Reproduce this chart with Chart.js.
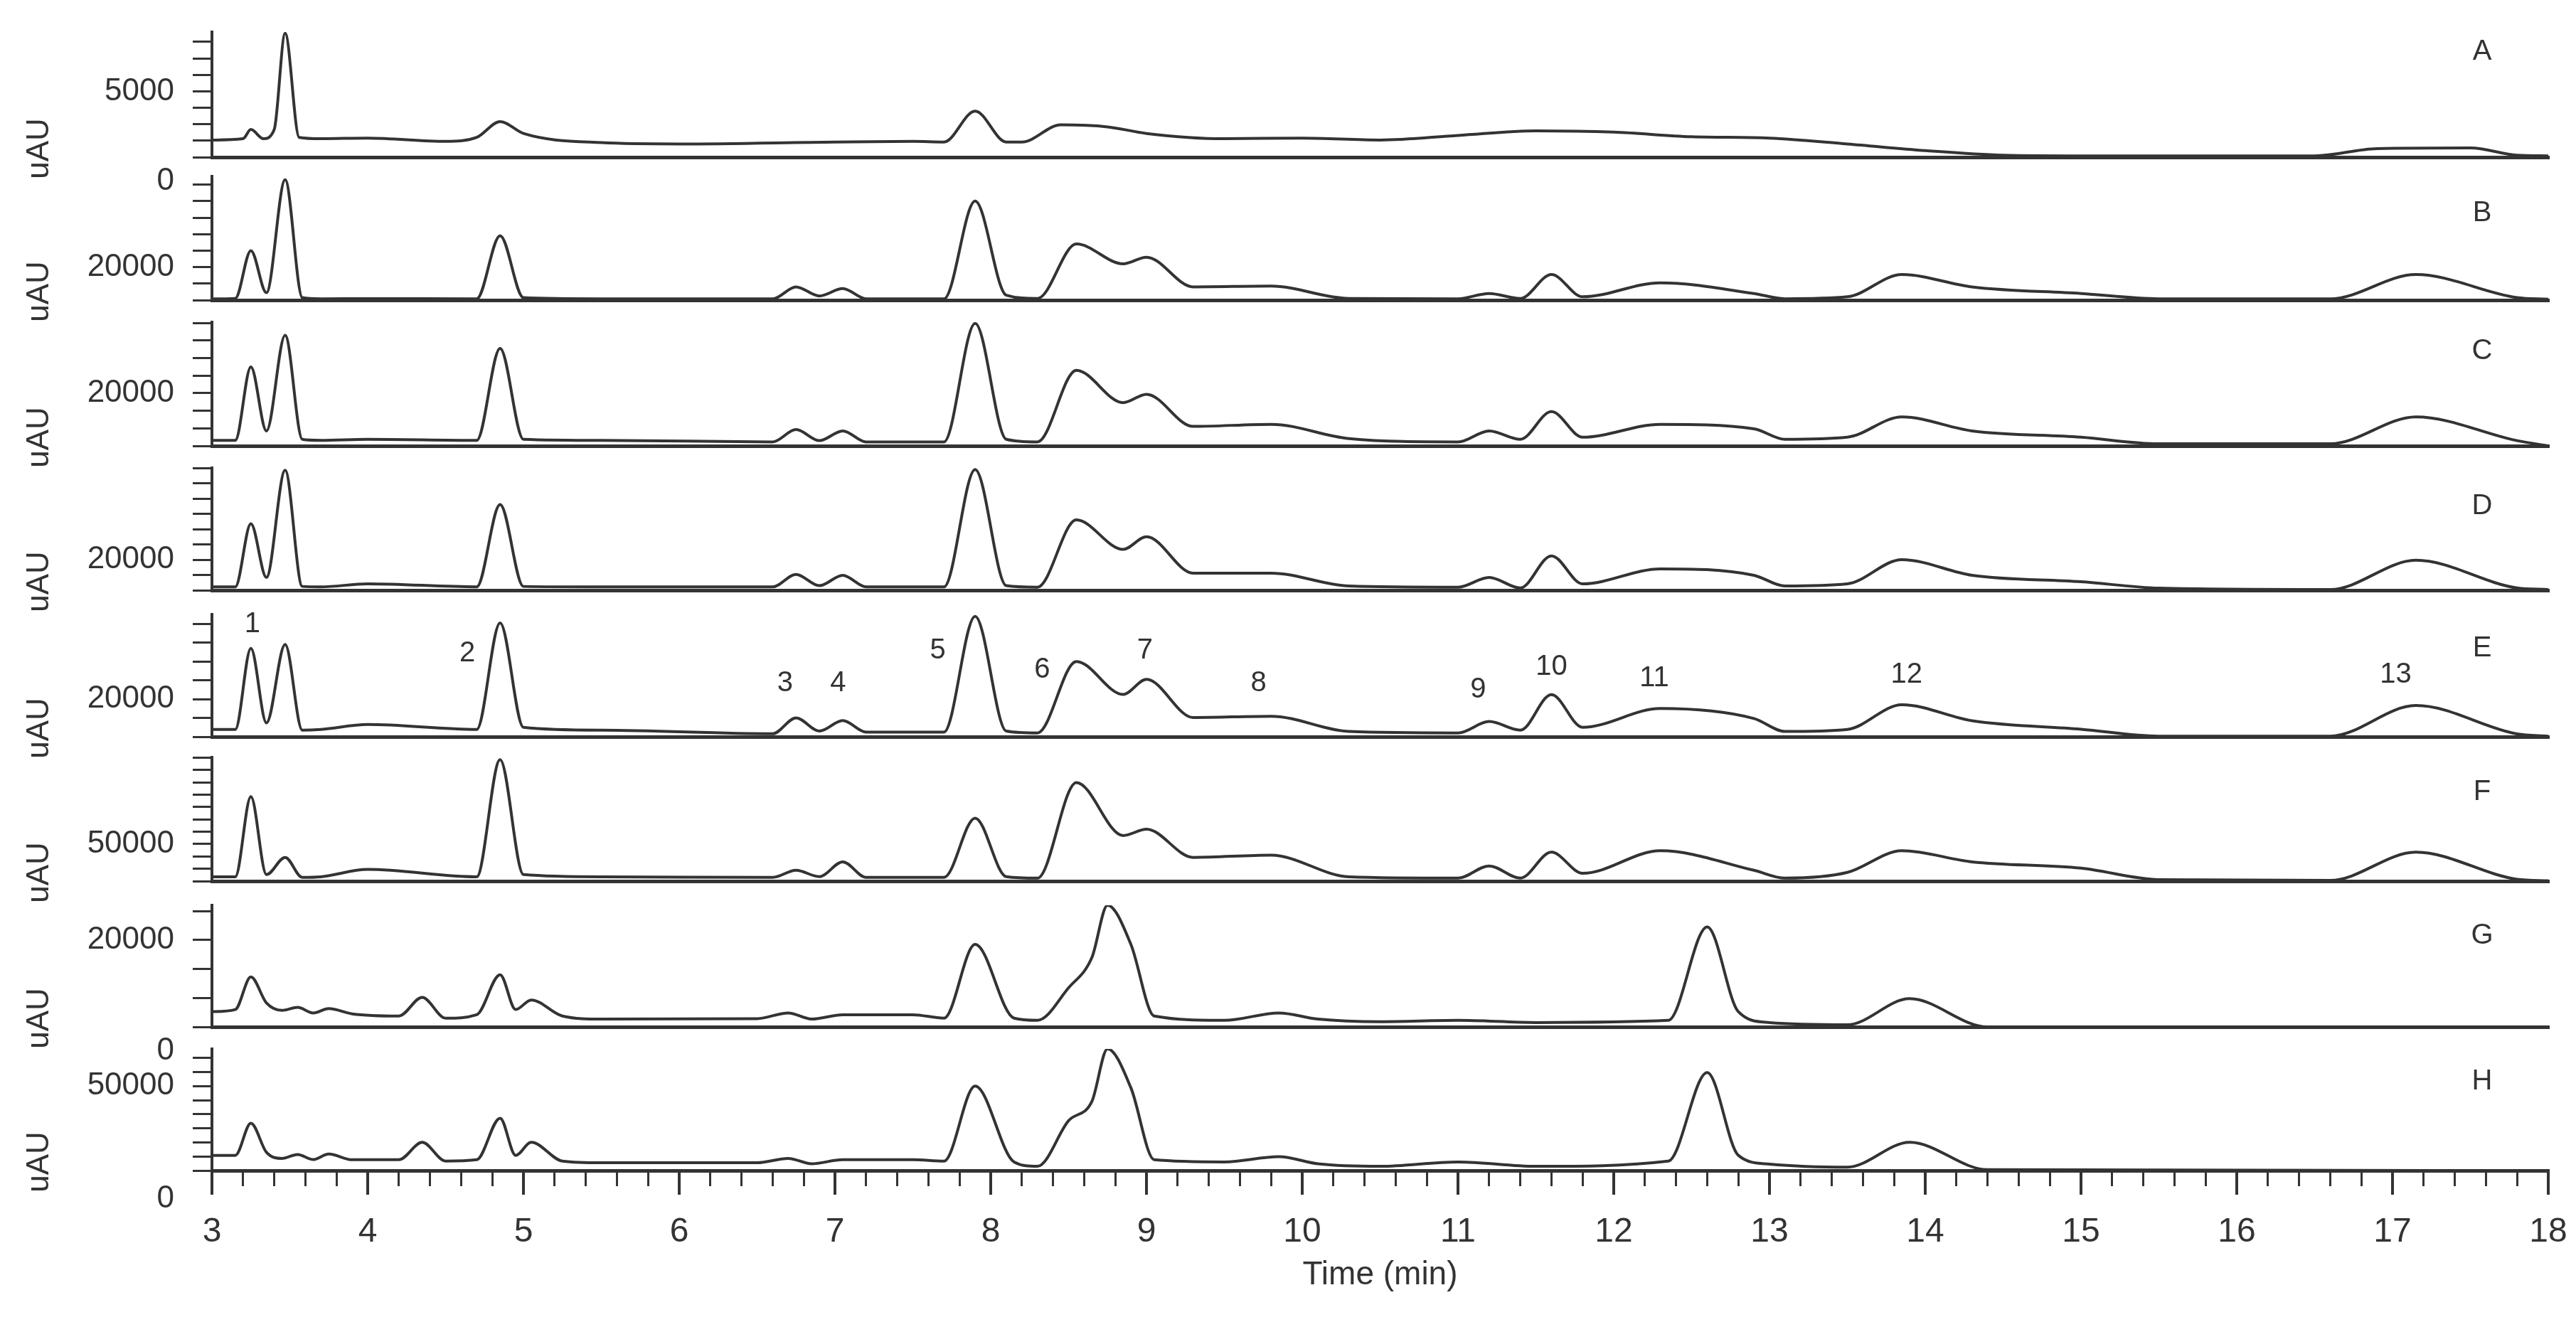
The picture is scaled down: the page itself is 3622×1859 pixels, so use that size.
<!DOCTYPE html>
<html><head><meta charset="utf-8">
<script src="https://cdn.jsdelivr.net/npm/chart.js@4.4.1/dist/chart.umd.min.js"></script>
<style>html,body{margin:0;padding:0;background:#fff;width:3622px;height:1859px;overflow:hidden;position:relative}canvas{position:absolute;left:0}</style>
</head><body>
<script>
// ---- data ----
const timeA = [3.0,3.2,3.25,3.33,3.4,3.47,3.56,3.7,4.0,4.5,4.7,4.85,5.0,5.5,6.0,7.0,7.5,7.7,7.9,8.1,8.2,8.45,8.75,9.0,9.5,10.0,10.5,11.0,11.5,12.0,12.5,13.0,13.5,14.0,14.5,15.0,16.5,16.9,17.5,17.8,18.0];
const timeBF = [3.0,3.15,3.25,3.35,3.47,3.58,3.7,4.0,4.7,4.85,5.0,5.5,6.6,6.75,6.9,7.05,7.2,7.7,7.9,8.1,8.3,8.55,8.85,9.0,9.3,9.8,10.3,11.0,11.2,11.4,11.6,11.8,12.3,12.9,13.1,13.5,13.85,14.3,15.0,15.5,16.6,17.15,17.8,18.0];
const timeGH = [3.0,3.15,3.25,3.35,3.45,3.55,3.65,3.75,3.9,4.2,4.35,4.5,4.7,4.85,4.95,5.05,5.25,5.5,6.5,6.7,6.85,7.05,7.5,7.7,7.9,8.15,8.3,8.5,8.65,8.75,8.9,9.05,9.5,9.85,10.1,10.5,11.0,11.5,12.35,12.6,12.8,13.0,13.5,13.9,14.4,18.0];

const seriesA = [1300,1400,2100,1400,2100,9400,1500,1400,1450,1200,1500,2700,1800,1100,1000,1150,1200,1150,3500,1150,1150,2450,2300,1800,1400,1450,1300,1650,2000,1900,1550,1450,1000,500,150,100,100,650,700,150,100];
const seriesB = [750,1000,30000,4500,73000,1500,800,900,800,39000,1500,800,800,8000,2500,7000,800,800,60000,3000,1000,34000,22000,26000,8000,8500,1000,800,4000,1000,15500,2000,10500,4000,800,2000,15500,8000,4000,800,800,15500,1500,500];
const seriesC = [2100,2100,30000,5700,42000,2500,2100,2500,2100,37000,2500,2100,1500,6200,2000,5700,1500,1500,46500,2500,1500,28700,16400,19600,7400,8200,2800,1500,5700,2500,13000,3300,8200,6500,2500,3300,11000,5700,3300,800,800,11000,2000,0];
const seriesD = [2200,2200,43500,8400,78500,2500,2200,4200,2200,56000,2500,2200,2200,10400,3000,9800,2200,2200,79000,3000,2000,46000,26700,35000,11200,11200,2800,2000,8400,1500,22500,4200,14000,9800,2800,4200,20000,9800,5600,1400,500,19600,1500,500];
const seriesE = [3900,3900,47000,7400,49000,3500,3900,6500,3900,60500,5000,3500,1600,10000,3000,8600,2500,2500,64000,3000,2000,40000,22500,30500,10200,10900,2800,2000,8100,3500,22400,5000,15000,9700,2800,3900,17000,8500,4000,300,300,16600,1500,300];
const seriesF = [5800,5800,114000,8800,32000,5000,5800,15800,5800,164000,8800,5800,5000,14600,6000,26000,5000,5000,85000,6000,4000,133000,61500,70000,32000,35000,5800,4000,20500,4000,39000,10500,41000,14600,4000,11700,41000,26000,17500,2000,1000,39000,2500,500];
const seriesG = [3500,4000,11500,5500,3800,4500,3200,4200,3000,2500,6800,2000,2800,12000,4000,6200,2500,1800,1900,3200,1800,2800,2800,2000,19000,2000,1500,9000,16000,28000,19000,2500,1500,3200,1800,1200,1500,1000,1500,23000,3500,1000,500,6500,0,0];
const seriesH = [9000,9000,28000,10800,7200,9500,6500,9800,6400,6400,16700,5600,6400,31000,9000,16700,5600,4600,4600,7200,4000,6400,6400,5600,50000,5100,2500,29500,41000,72000,49000,6400,5100,8200,4000,2500,5100,2500,5600,58000,9000,3800,2000,16700,500,0];

const panelNames = ['A','B','C','D','E','F','G','H'];
const yMax = [9500,75000,47000,80000,65000,167000,28000,72000];
const yStep = [1250,10000,20000/3,10000,10000,50000/3,20000/3,50000/6];
const yLabelled = [[5000],[20000],[20000],[20000],[20000],[50000],[20000],[50000]];
const xTickLabels = [3,4,5,6,7,8,9,10,11,12,13,14,15,16,17,18];
const peakNames = ['1','2','3','4','5','6','7','8','9','10','11','12','13'];
const peakTimes = [3.26,4.64,6.68,7.02,7.66,8.33,8.99,9.72,11.13,11.6,12.26,13.88,17.02];
const peakLevels = [59700,44200,28300,28300,45700,35500,45700,28300,25000,37000,31000,32900,32900];

// ---- layout ----
const panels = [
  {t:timeA,v:seriesA,top:45,bot:221,zero:true,letter:73},
  {t:timeBF,v:seriesB,top:248,bot:422,letter:300},
  {t:timeBF,v:seriesC,top:453,bot:627,letter:494},
  {t:timeBF,v:seriesD,top:658,bot:830,letter:712},
  {t:timeBF,v:seriesE,top:864,bot:1036,letter:912,peaks:true},
  {t:timeBF,v:seriesF,top:1065,bot:1239,letter:1114},
  {t:timeGH,v:seriesG,top:1273,bot:1444,zero:true,letter:1316},
  {t:timeGH,v:seriesH,top:1475,bot:1646,zero:true,last:true,letter:1521}
];
const FONT = '"Liberation Sans", Arial, sans-serif';
const INK = '#333';
const PAD = 20, PADB = 70;

panels.forEach((p,i)=>{
  const cv = document.createElement('canvas');
  const top = p.top - PAD;
  const h = p.last ? 1859 - top : (p.bot - p.top) + PAD + PADB;
  cv.style.top = top+'px';
  cv.style.width='3622px'; cv.style.height=h+'px';
  cv.width=3622; cv.height=h;
  document.body.appendChild(cv);
  const labelled = yLabelled[i];
  const deco = {
    id:'deco'+i,
    afterDraw(chart){
      const c=chart.ctx, xs=chart.scales.x, ys=chart.scales.y;
      c.save();
      c.fillStyle=INK;
      c.font='40px '+FONT; c.textAlign='center'; c.textBaseline='middle';
      c.fillText(panelNames[i], 3490, p.letter-top);
      c.save(); c.translate(56, p.bot-12-top); c.rotate(-Math.PI/2);
      c.font='44px '+FONT; c.textAlign='center'; c.fillText('uAU',0,0); c.restore();
      if(p.zero){ c.font='44px '+FONT; c.textAlign='right';
        c.fillText('0', 245, ys.getPixelForValue(0)+(p.last?40:34)); }
      if(p.peaks){
        c.font='40px '+FONT; c.textAlign='center';
        peakNames.forEach((n,k)=>c.fillText(n, xs.getPixelForValue(peakTimes[k]), ys.getPixelForValue(peakLevels[k])));
      }
      if(p.last){
        c.strokeStyle=INK; c.lineWidth=4;
        xTickLabels.forEach(v=>{const x=xs.getPixelForValue(v);c.beginPath();c.moveTo(x,xs.top);c.lineTo(x,xs.top+34);c.stroke();});
      }
      c.restore();
    }
  };
  new Chart(cv,{
    type:'line',
    data:{datasets:[{data:p.t.map((t,k)=>({x:t,y:p.v[k]})),borderColor:INK,borderWidth:4,pointRadius:0,cubicInterpolationMode:'monotone',fill:false}]},
    options:{
      responsive:false,animation:false,events:[],
      layout:{padding:{top:PAD,bottom:p.last?38:PADB,left:0,right:39}},
      plugins:{legend:{display:false},tooltip:{enabled:false}},
      scales:{
        x:{type:'linear',min:3,max:18,
          afterFit(s){s.height = p.last?175:0; s.paddingLeft=0; s.paddingRight=0;},
          border:{display:true,color:INK,width:5},
          grid:{drawOnChartArea:false,drawTicks:!!p.last,tickLength:22,color:INK,lineWidth:3},
          ticks:{display:!!p.last,stepSize:0.2,autoSkip:false,maxRotation:0,padding:36,color:INK,font:{size:48,family:FONT},
            callback:v=>{const r=Math.round(v);return (Math.abs(v-r)<1e-6&&xTickLabels.includes(r))?String(r):'';}},
          title:{display:!!p.last,text:'Time (min)',color:INK,font:{size:46,family:FONT},padding:0}
        },
        y:{min:0,max:yMax[i],
          afterFit(s){s.width=298; s.paddingTop=0; s.paddingBottom=0;},
          afterBuildTicks(s){const t=[];for(let k=0;k*yStep[i]<=yMax[i]+1;k++)t.push({value:k*yStep[i]});s.ticks=t;},
          border:{display:true,color:INK,width:4},
          grid:{drawOnChartArea:false,drawTicks:true,tickLength:27,color:INK,lineWidth:3},
          ticks:{autoSkip:false,padding:26,color:INK,font:{size:44,family:FONT},
            callback:v=>labelled.some(l=>Math.abs(l-v)<1)?String(Math.round(v)):''}
        }
      }
    },
    plugins:[deco]
  });
});
</script>
</body></html>
